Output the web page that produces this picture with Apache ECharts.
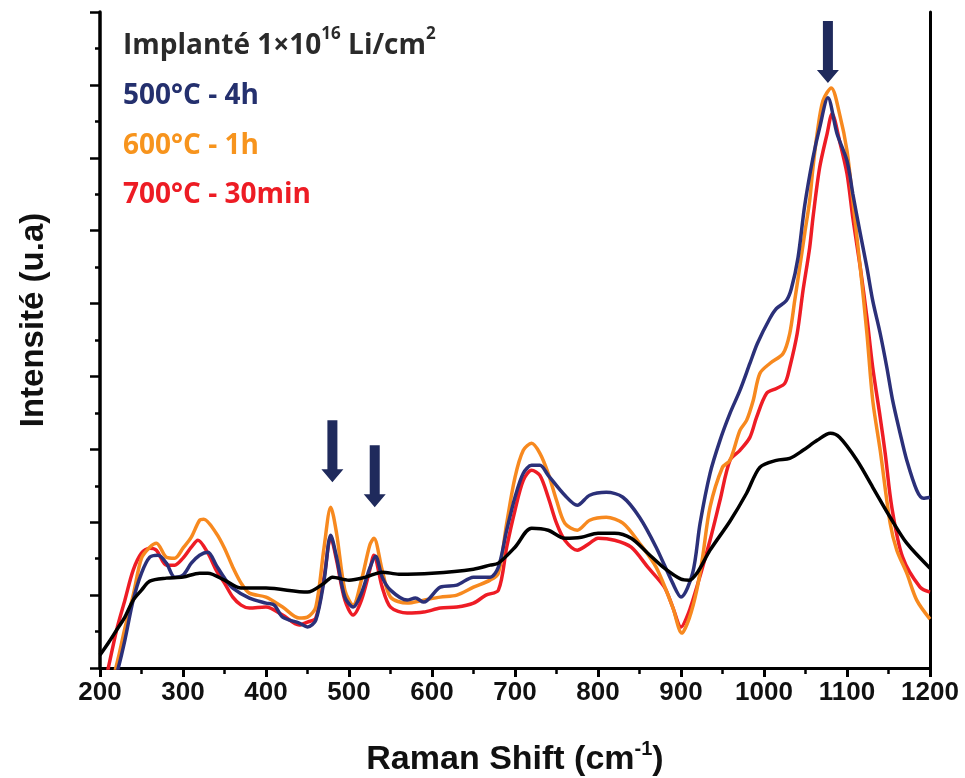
<!DOCTYPE html>
<html>
<head>
<meta charset="utf-8">
<script src="https://cdn.jsdelivr.net/npm/echarts@6/dist/echarts.min.js"></script>
<style>
  html, body { margin: 0; padding: 0; background: #fff; }
  #main { width: 965px; height: 778px; }
</style>
</head>
<body>
<div id="main"></div>
<script>
// Raman spectra, [shift cm-1, intensity a.u.]
const refSpectrum = [[200,13],[210,25],[220,38],[230,51],[240,68],[250,78],[260,87],[280,90],[300,91],[320,95],[330,95],[350,88],[370,80],[400,80],[450,76],[470,85],[480,91],[500,88],[520,91],[540,96],[560,94],[600,95],[650,99],[670,103],[680,105],[700,121],[720,140],[740,138],[760,130],[780,131],[800,135],[820,135],[840,130],[860,115],[880,100],[900,89],[910,88],[920,96],[935,118],[959,147],[979,175],[995,201],[1015,208],[1031,210],[1047,218],[1064,228],[1080,235],[1091,231],[1112,208],[1131,181],[1152,151],[1172,125],[1200,100]]

const s500 = [[218,-10],[222,0],[230,28],[240,68],[250,95],[260,111],[270,113],[280,105],[290,91],[300,93],[310,105],[320,113],[330,116],[340,103],[350,90],[360,80],[380,70],[400,65],[410,63],[420,51],[440,45],[450,41],[460,48],[470,88],[478,133],[485,111],[495,71],[505,61],[515,75],[525,100],[532,112],[540,91],[550,78],[570,68],[580,70],[590,66],[610,81],[630,83],[650,91],[670,91],[680,101],[690,138],[700,171],[710,195],[720,203],[730,203],[740,193],[760,173],[775,163],[790,173],[810,176],[830,171],[850,151],[870,121],[890,85],[900,71],[914,95],[923,145],[935,195],[947,228],[959,255],[971,278],[983,305],[992,325],[1007,350],[1015,360],[1027,368],[1033,380],[1041,411],[1049,463],[1059,511],[1067,541],[1077,571],[1088,535],[1100,508],[1107,475],[1116,435],[1124,401],[1131,368],[1140,335],[1148,301],[1155,268],[1164,235],[1172,208],[1184,178],[1192,170],[1200,171]]

const s600 = [[216,-10],[222,10],[230,40],[240,73],[250,110],[260,121],[268,125],[280,111],[290,110],[300,120],[310,131],[320,148],[325,149],[340,135],[350,120],[360,101],[370,85],[380,75],[400,71],[420,61],[440,50],[450,51],[460,61],[470,121],[478,161],[485,135],[495,78],[505,63],[515,88],[525,123],[530,130],[540,98],[550,71],[570,65],[590,68],[610,71],[630,73],[650,81],[670,88],[680,95],[690,145],[700,191],[710,218],[720,225],[730,215],[740,195],[750,168],[760,145],[775,138],[790,148],[810,151],[830,145],[850,125],[870,101],[890,61],[901,35],[910,50],[919,78],[926,111],[935,161],[950,201],[959,208],[971,238],[979,248],[987,268],[995,295],[1007,305],[1023,315],[1031,335],[1037,368],[1043,401],[1049,435],[1055,468],[1059,501],[1064,535],[1071,568],[1081,581],[1091,555],[1100,518],[1107,468],[1116,401],[1124,335],[1131,268],[1140,218],[1152,145],[1160,118],[1172,95],[1184,68],[1200,49]]

const s700 = [[207,-10],[210,0],[220,38],[230,68],[240,98],[250,115],[260,120],[268,118],[280,103],[290,103],[300,110],[310,121],[318,128],[330,115],[340,98],[350,85],[360,71],[370,63],[380,60],[400,61],[420,53],[440,43],[450,46],[460,50],[470,91],[478,131],[485,108],[495,68],[505,53],[515,68],[525,98],[530,113],[540,81],[550,61],[570,55],[590,56],[610,60],[630,61],[650,65],[665,73],[680,78],[690,121],[700,158],[710,188],[720,198],[730,193],[740,171],[750,145],[760,128],[775,118],[790,125],[800,130],[820,128],[840,121],[860,101],[880,81],[890,61],[900,41],[909,55],[919,81],[935,128],[947,168],[959,208],[971,218],[983,231],[991,251],[1003,275],[1015,280],[1025,285],[1031,301],[1040,335],[1047,378],[1055,421],[1059,451],[1067,501],[1076,535],[1082,555],[1091,528],[1100,495],[1107,451],[1116,401],[1124,351],[1131,301],[1140,251],[1146,215],[1154,161],[1167,111],[1188,81],[1200,76]]

// arrow tips pointing at the peaks
const arrowTips = [[1077,586],[480,186],[531,161]]

const xTicks = { min: 200, max: 1200, step: 100 }
const yTicks = { min: 0, max: 657, step: 73 }

const chart = echarts.init(document.getElementById('main'))
const axisFont = 'Liberation Sans, Arial, sans-serif'
const legendFont = '"Open Sans", Lato, sans-serif'

const lineSeries = (name, data, color) => ({
  name, type: 'line', data, showSymbol: false, smooth: 0.3,
  lineStyle: { color, width: 3.5 }, itemStyle: { color }, silent: true, animation: false
})

const legendLine = (txt, color, top) => ({
  type: 'text', left: 123, top,
  style: { text: txt, fill: color, font: 'bold 28px ' + legendFont }
})

chart.setOption({
  animation: false,
  grid: { left: 100, right: 35, top: 12, bottom: 110 },
  xAxis: [{
    type: 'value', min: xTicks.min, max: xTicks.max, interval: xTicks.step,
    axisLine: { lineStyle: { color: '#000', width: 3 } },
    axisTick: { inside: false, length: 9, lineStyle: { width: 3, color: '#000' } },
    minorTick: { show: true, splitNumber: 2, length: 6, lineStyle: { width: 2.5, color: '#000' } },
    splitLine: { show: false },
    axisLabel: {
      margin: 12, color: '#111', fontFamily: axisFont, fontWeight: 'bold', fontSize: 26,
      formatter: v => String(v)
    }
  }, {
    type: 'value', position: 'top', min: xTicks.min, max: xTicks.max,
    axisLine: { lineStyle: { color: '#000', width: 3 } },
    axisTick: { show: false }, axisLabel: { show: false }, splitLine: { show: false }
  }],
  yAxis: [{
    type: 'value', min: yTicks.min, max: yTicks.max, interval: yTicks.step,
    axisLine: { show: true, lineStyle: { color: '#000', width: 3.5 } },
    axisTick: { show: true, inside: false, length: 10, lineStyle: { width: 2.5, color: '#000' } },
    minorTick: { show: true, splitNumber: 2, length: 5, lineStyle: { width: 2.5, color: '#000' } },
    axisLabel: { show: false }, splitLine: { show: false }
  }, {
    type: 'value', position: 'right', min: yTicks.min, max: yTicks.max,
    axisLine: { show: true, lineStyle: { color: '#000', width: 3 } },
    axisTick: { show: false }, axisLabel: { show: false }, splitLine: { show: false }
  }],
  series: [
    lineSeries('700°C - 30min', s700, '#ee1c25'),
    lineSeries('600°C - 1h', s600, '#f7891f'),
    lineSeries('500°C - 4h', s500, '#2b3079'),
    lineSeries('Implanté', refSpectrum, '#000000'),
    {
      type: 'scatter', data: arrowTips, silent: true, z: 10,
      symbol: 'path://M6,0 L16,0 L16,49 L22,49 L11,62 L0,49 L6,49 Z',
      symbolSize: [22, 62], symbolOffset: [0, '-50%'],
      itemStyle: { color: '#1f2a5c', opacity: 1 }
    }
  ],
  graphic: [
    {
      type: 'text', left: 123, top: 26,
      style: {
        text: '{a|Implanté 1×10}{s|16}{a| Li/cm}{s|2}',
        fill: '#2a2a2a',
        rich: {
          a: { font: 'bold 28px ' + legendFont, fill: '#2a2a2a', verticalAlign: 'bottom', lineHeight: 34 },
          s: { font: 'bold 17px ' + legendFont, fill: '#2a2a2a', verticalAlign: 'top', lineHeight: 34 }
        }
      }
    },
    legendLine('500°C - 4h', '#24306e', 82),
    legendLine('600°C - 1h', '#f7941d', 132),
    legendLine('700°C - 30min', '#ed1c24', 181),
    {
      type: 'text', x: 34, y: 320, rotation: Math.PI / 2,
      style: {
        text: 'Intensité (u.a)', fill: '#111', align: 'center', verticalAlign: 'middle',
        font: 'bold 33px ' + axisFont
      }
    },
    {
      type: 'text', x: 515, y: 758,
      style: {
        text: '{a|Raman Shift (cm}{s|-1}{a|)}',
        align: 'center', verticalAlign: 'middle', fill: '#111',
        rich: {
          a: { font: 'bold 34px ' + axisFont, fill: '#111', verticalAlign: 'bottom', lineHeight: 38 },
          s: { font: 'bold 20px ' + axisFont, fill: '#111', verticalAlign: 'top', lineHeight: 38 }
        }
      }
    }
  ]
})
</script>
</body>
</html>
